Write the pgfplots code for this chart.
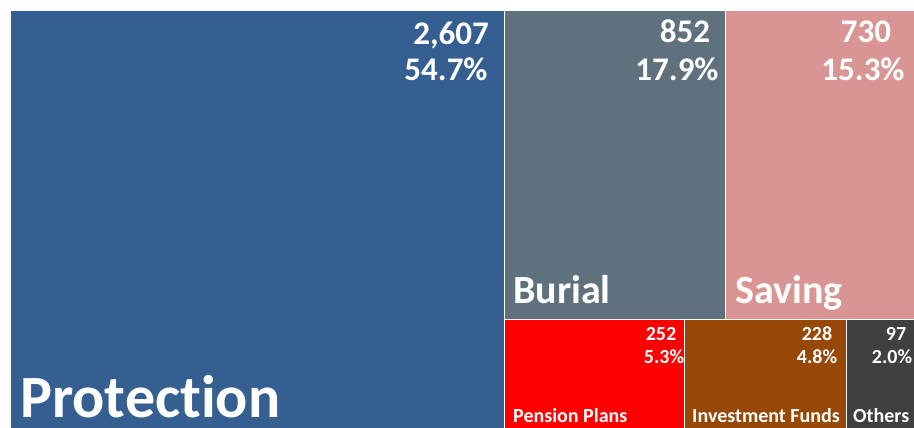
\documentclass[border=0pt]{standalone}
\usepackage{pgfplots}
\pgfplotsset{compat=1.18}
\usepackage{fontspec}
\setmainfont{Carlito}[Ligatures=NoCommon]
\definecolor{cProt}{RGB}{54,95,145}
\definecolor{cBur}{RGB}{96,113,126}
\definecolor{cSav}{RGB}{217,149,148}
\definecolor{cPen}{RGB}{255,0,0}
\definecolor{cInv}{RGB}{152,72,6}
\definecolor{cOth}{RGB}{64,64,64}
\tikzset{lbl/.style={text=white, inner sep=0pt}}
\begin{document}
\begin{tikzpicture}
\begin{axis}[
  scale only axis, width=914bp, height=428bp,
  xmin=0, xmax=914, ymin=0, ymax=428, y dir=reverse,
  hide axis, clip=true,
]
% Values: Protection 2607, Burial 852, Saving 730, Pension Plans 252, Investment Funds 228, Others 97
\addplot[fill=cProt, draw=white, line width=1.2bp] coordinates {(10,10) (504.5,10) (504.5,430) (10,430)} -- cycle;
\addplot[fill=cBur, draw=white, line width=1.2bp] coordinates {(504.5,10) (725.5,10) (725.5,319.5) (504.5,319.5)} -- cycle;
\addplot[fill=cSav, draw=white, line width=1.2bp] coordinates {(725.5,10) (916,10) (916,319.5) (725.5,319.5)} -- cycle;
\addplot[fill=cPen, draw=white, line width=1.2bp] coordinates {(504.5,319.5) (684.5,319.5) (684.5,430) (504.5,430)} -- cycle;
\addplot[fill=cInv, draw=white, line width=1.2bp] coordinates {(684.5,319.5) (846.5,319.5) (846.5,430) (684.5,430)} -- cycle;
\addplot[fill=cOth, draw=white, line width=1.2bp] coordinates {(846.5,319.5) (916,319.5) (916,430) (846.5,430)} -- cycle;
\end{axis}
\begin{axis}[
  scale only axis, width=914bp, height=428bp,
  xmin=0, xmax=914, ymin=0, ymax=428, y dir=reverse,
  hide axis, clip=false,
]
\node[lbl, anchor=base west, font=\fontsize{60bp}{60bp}\selectfont\bfseries] at (axis cs:20,417) {Protection};
\node[lbl, anchor=base west, font=\fontsize{40bp}{40bp}\selectfont\bfseries] at (axis cs:513,303) {Burial};
\node[lbl, anchor=base west, font=\fontsize{40bp}{40bp}\selectfont\bfseries] at (axis cs:735,303) {Saving};
\node[lbl, anchor=base west, font=\fontsize{20bp}{20bp}\selectfont\bfseries] at (axis cs:513,422) {Pension Plans};
\node[lbl, anchor=base west, font=\fontsize{20bp}{20bp}\selectfont\bfseries] at (axis cs:692,422) {Investment Funds};
\node[lbl, anchor=base west, font=\fontsize{20bp}{20bp}\selectfont\bfseries] at (axis cs:853,422) {Others};
% big numbers
\node[lbl, anchor=base, font=\fontsize{33bp}{33bp}\selectfont\bfseries] at (axis cs:451,45) {2,607};
\node[lbl, anchor=base, font=\fontsize{33bp}{33bp}\selectfont\bfseries] at (axis cs:446,81) {54.7\%};
\node[lbl, anchor=base, font=\fontsize{33bp}{33bp}\selectfont\bfseries] at (axis cs:685,43) {852};
\node[lbl, anchor=base, font=\fontsize{33bp}{33bp}\selectfont\bfseries] at (axis cs:677,81) {17.9\%};
\node[lbl, anchor=base, font=\fontsize{33bp}{33bp}\selectfont\bfseries] at (axis cs:866,43) {730};
\node[lbl, anchor=base, font=\fontsize{33bp}{33bp}\selectfont\bfseries] at (axis cs:863,81) {15.3\%};
% small numbers
\node[lbl, anchor=base, font=\fontsize{20bp}{20bp}\selectfont\bfseries] at (axis cs:661,340) {252};
\node[lbl, anchor=base, font=\fontsize{20bp}{20bp}\selectfont\bfseries] at (axis cs:664,363) {5.3\%};
\node[lbl, anchor=base, font=\fontsize{20bp}{20bp}\selectfont\bfseries] at (axis cs:817,340) {228};
\node[lbl, anchor=base, font=\fontsize{20bp}{20bp}\selectfont\bfseries] at (axis cs:817,363) {4.8\%};
\node[lbl, anchor=base, font=\fontsize{20bp}{20bp}\selectfont\bfseries] at (axis cs:896,340) {97};
\node[lbl, anchor=base, font=\fontsize{20bp}{20bp}\selectfont\bfseries] at (axis cs:892,363) {2.0\%};
\end{axis}
\pgfresetboundingbox
\useasboundingbox (0,0) rectangle (914bp,428bp);
\end{tikzpicture}
\end{document}
